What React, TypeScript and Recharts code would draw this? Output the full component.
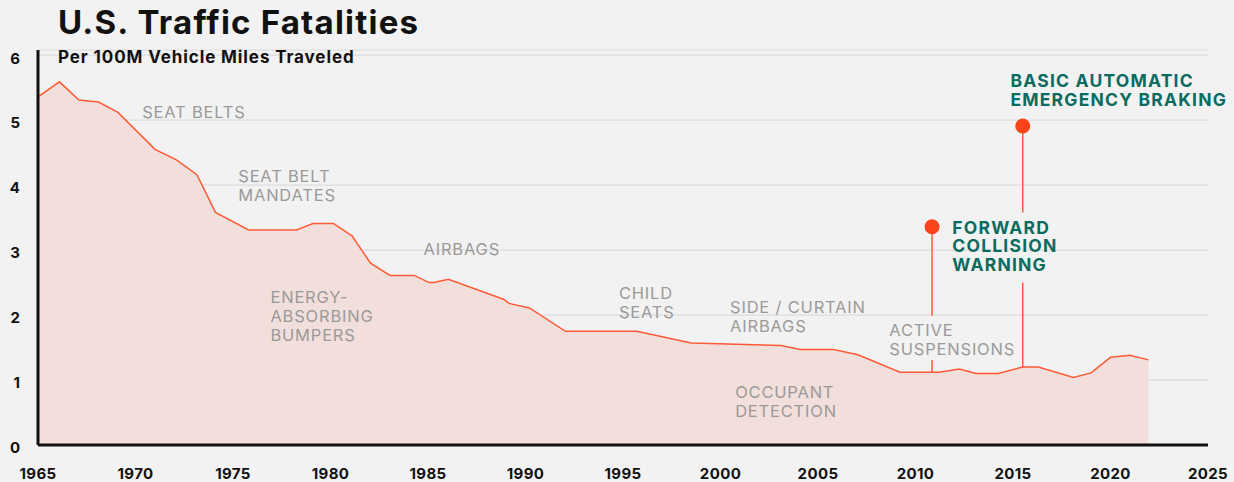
import React from 'react';
import {
  ComposedChart,
  Area,
  XAxis,
  YAxis,
  CartesianGrid,
  ReferenceLine,
  ReferenceDot,
} from 'recharts';

// fatalities per 100M vehicle miles
const years = [
  1965.0, 1966.1, 1967.1, 1968.1, 1969.1, 1971.0, 1972.1, 1973.15, 1974.1, 1975.8,
  1978.25, 1979.1, 1980.15, 1981.1, 1982.05, 1983.05, 1984.3, 1985.05, 1985.3, 1986.05,
  1988.9, 1989.15, 1990.2, 1992.05, 1995.7, 1998.5, 2003.1, 2004.1, 2005.8, 2007.05,
  2009.2, 2011.2, 2012.25, 2013.1, 2014.25, 2015.5, 2016.3, 2018.1, 2019.0, 2020.0,
  2021.0, 2021.95,
];
const rates = [
  5.36, 5.59, 5.31, 5.28, 5.12, 4.55, 4.39, 4.16, 3.58, 3.31,
  3.31, 3.41, 3.41, 3.22, 2.8, 2.61, 2.61, 2.5, 2.5, 2.55,
  2.24, 2.18, 2.11, 1.75, 1.75, 1.57, 1.53, 1.47, 1.47, 1.39,
  1.12, 1.12, 1.17, 1.1, 1.1, 1.2, 1.2, 1.04, 1.11, 1.35,
  1.38, 1.31,
];
const yearTicks = [1965, 1970, 1975, 1980, 1985, 1990, 1995, 2000, 2005, 2010, 2015, 2020, 2025];
const rateTicks = [0, 1, 2, 3, 4, 5, 6];

// safety technologies (grey), anchored in data units
const techLabels = [
  { lines: ['SEAT BELTS'], year: 1970.34, rate: 5.12 },
  { lines: ['SEAT BELT', 'MANDATES'], year: 1975.27, rate: 4.14 },
  { lines: ['AIRBAGS'], year: 1984.77, rate: 3.02 },
  { lines: ['ENERGY-', 'ABSORBING', 'BUMPERS'], year: 1976.92, rate: 2.28 },
  { lines: ['CHILD', 'SEATS'], year: 1994.79, rate: 2.34 },
  { lines: ['SIDE / CURTAIN', 'AIRBAGS'], year: 2000.49, rate: 2.13 },
  { lines: ['ACTIVE', 'SUSPENSIONS'], year: 2008.66, rate: 1.77 },
  { lines: ['OCCUPANT', 'DETECTION'], year: 2000.75, rate: 0.82 },
];

// highlighted technologies (green) with their marker stems
const highlights = [
  { lines: ['FORWARD', 'COLLISION', 'WARNING'], year: 2011.89, rate: 3.35 },
  { lines: ['BASIC AUTOMATIC', 'EMERGENCY BRAKING'], year: 2014.87, rate: 5.61 },
];
const markers = [
  { year: 2010.85, base: 1.12, gapLow: 1.31, gapHigh: 1.99, top: 3.36 },
  { year: 2015.5, base: 1.2, gapLow: 2.5, gapHigh: 3.58, top: 4.91 },
];

const data = years.map((year, i) => ({ year, rate: rates[i] }));

const FONT = 'Inter, "Noto Sans", sans-serif';
const BG = '#f2f2f2';
const LINE = '#ff5a36';
const DOT = '#fc4319';
const GREEN = '#0a6b5f';
const GREY = '#9a9a9a';

const multiLine = (
  lines: string[],
  color: string,
  weight: number,
  size: number,
  lh: number,
  spacing: number
) =>
  (props: any) => (
    <text
      x={props.cx}
      y={props.cy}
      fill={color}
      fontSize={size}
      fontWeight={weight}
      fontFamily={FONT}
      letterSpacing={spacing}
    >
      {lines.map((l, i) => (
        <tspan key={i} x={props.cx} dy={i === 0 ? '0.36em' : lh}>
          {l}
        </tspan>
      ))}
    </text>
  );

export default function App() {
  return (
    <div style={{ position: 'relative', width: 1234, height: 482, background: BG, fontFamily: FONT }}>
      <style>{'body{margin:0;background:#f2f2f2}'}</style>
      <ComposedChart width={1234} height={482} data={data} margin={{ top: 50, right: 26, bottom: 0, left: 0 }}>
        <CartesianGrid vertical={false} stroke="#dcdcdc" strokeWidth={1.2} />
        <XAxis
          dataKey="year"
          type="number"
          domain={[1965, 2025]}
          ticks={yearTicks}
          height={37}
          tickLine={false}
          axisLine={{ stroke: '#111', strokeWidth: 3 }}
          tickMargin={17}
          tick={{ fill: '#111', fontSize: 15, fontWeight: 700, fontFamily: FONT, letterSpacing: 0.4 }}
        />
        <YAxis
          type="number"
          domain={[0, 6.08]}
          ticks={rateTicks}
          width={38}
          tickLine={false}
          axisLine={{ stroke: '#111', strokeWidth: 3 }}
          tickMargin={12}
          tick={{ fill: '#111', fontSize: 15, fontWeight: 700, fontFamily: FONT, dy: 3 }}
        />
        <Area
          type="linear"
          dataKey="rate"
          stroke={LINE}
          strokeWidth={1.5}
          fill="#f2dfdb"
          fillOpacity={1}
          dot={false}
          activeDot={false}
          isAnimationActive={false}
        />
        {markers.map((m, i) => (
          <ReferenceLine
            key={`lo-${i}`}
            segment={[{ x: m.year, y: m.base }, { x: m.year, y: m.gapLow }]}
            stroke={LINE}
            strokeWidth={1.5}
          />
        ))}
        {markers.map((m, i) => (
          <ReferenceLine
            key={`hi-${i}`}
            segment={[{ x: m.year, y: m.gapHigh }, { x: m.year, y: m.top }]}
            stroke={LINE}
            strokeWidth={1.5}
          />
        ))}
        {markers.map((m, i) => (
          <ReferenceDot key={`dot-${i}`} x={m.year} y={m.top} r={7.5} fill={DOT} stroke="none" />
        ))}
        {techLabels.map((t, i) => (
          <ReferenceDot
            key={`t-${i}`}
            x={t.year}
            y={t.rate}
            r={1}
            shape={multiLine(t.lines, GREY, 400, 16.5, 19, 0.8)}
          />
        ))}
        {highlights.map((t, i) => (
          <ReferenceDot
            key={`h-${i}`}
            x={t.year}
            y={t.rate}
            r={1}
            shape={multiLine(t.lines, GREEN, 700, 17.5, 18.7, 1.2)}
          />
        ))}
      </ComposedChart>
      <div
        style={{
          position: 'absolute',
          left: 58,
          top: 6,
          fontSize: 33,
          lineHeight: 1,
          fontWeight: 700,
          letterSpacing: 1.2,
          color: '#111',
        }}
      >
        U.S. Traffic Fatalities
      </div>
      <div
        style={{
          position: 'absolute',
          left: 58,
          top: 49,
          fontSize: 17,
          lineHeight: 1,
          fontWeight: 700,
          letterSpacing: 0.9,
          color: '#111',
        }}
      >
        Per 100M Vehicle Miles Traveled
      </div>
    </div>
  );
}
